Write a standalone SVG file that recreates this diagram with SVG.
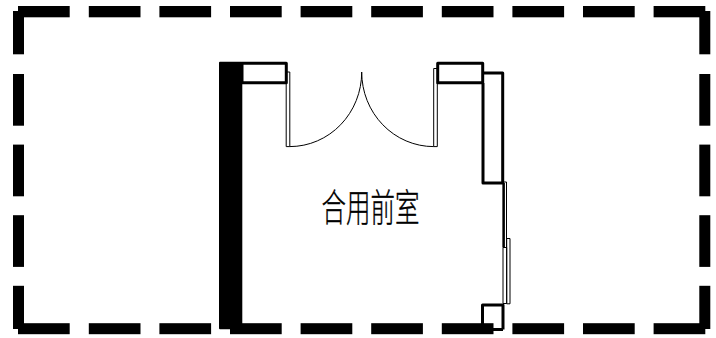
<svg xmlns="http://www.w3.org/2000/svg" width="716" height="338" viewBox="0 0 716 338">
<style>
.d{fill:#000}
.w{fill:none;stroke:#000;stroke-width:3;stroke-linejoin:round}
.t{fill:none;stroke:#000;stroke-width:1}
.m{fill:none;stroke:#000;stroke-width:2.200}
text{font-family:"Noto Sans CJK SC","Noto Sans",sans-serif;font-size:38px;font-weight:300;fill:#000;stroke:#000;stroke-width:.35}
</style>
<rect width="716" height="338" fill="#fff"/>
<g id="boundary" class="d">
<rect x="18" y="6" width="51.7" height="11.3"/><rect x="88.8" y="6" width="51.7" height="11.3"/><rect x="159.4" y="6" width="51.7" height="11.3"/><rect x="230" y="6" width="51.7" height="11.3"/><rect x="300.6" y="6" width="51.7" height="11.3"/><rect x="371.2" y="6" width="51.7" height="11.3"/><rect x="441.8" y="6" width="51.7" height="11.3"/><rect x="512.4" y="6" width="51.7" height="11.3"/><rect x="583" y="6" width="51.7" height="11.3"/><rect x="653.6" y="6" width="51.7" height="11.3"/>
<rect x="18" y="323.2" width="51.7" height="11"/><rect x="88.8" y="323.2" width="51.7" height="11"/><rect x="159.4" y="323.2" width="51.7" height="11"/><rect x="230" y="323.2" width="51.7" height="11"/><rect x="300.6" y="323.2" width="51.7" height="11"/><rect x="371.2" y="323.2" width="51.7" height="11"/><rect x="441.8" y="323.2" width="51.7" height="11"/><rect x="512.4" y="323.2" width="51.7" height="11"/><rect x="583" y="323.2" width="51.7" height="11"/><rect x="653.6" y="323.2" width="51.7" height="11"/>
<rect x="13" y="11" width="11" height="43.3"/><rect x="13" y="74" width="11" height="51.7"/><rect x="13" y="144.6" width="11" height="51.7"/><rect x="13" y="215.2" width="11" height="51.7"/><rect x="13" y="285.8" width="11" height="43.2"/>
<rect x="699.3" y="11" width="11" height="43.3"/><rect x="699.3" y="74" width="11" height="51.7"/><rect x="699.3" y="144.6" width="11" height="51.7"/><rect x="699.3" y="215.2" width="11" height="51.7"/><rect x="699.3" y="285.8" width="11" height="43.2"/>
</g>
<g id="walls">
<rect class="d" x="219" y="61.7" width="23.3" height="267.6" rx="1"/>
<rect class="w" x="242" y="63.3" width="44.3" height="19.4"/>
<rect class="w" x="437.7" y="63.3" width="45" height="19.4"/>
<path class="w" d="M483 73H502.7V183H483V83"/>
<path class="m" d="M503.800 183V247"/>
<path class="w" d="M503 329.500H482.500V305H503V329.500"/>
</g>
<g id="doors">
<path class="t" d="M286.200 83V146.600H289.800V72H285.500"/>
<path class="t" d="M437.300 83V146.600H433.700V68.500H437"/>
<path class="t" d="M289.800 146.600A72 74.500 0 0 0 361.700 72"/>
<path class="t" d="M433.700 146.600A72 74.500 0 0 1 361.700 72"/>
<path class="t" d="M503 182H506.500V247.500H503Z"/>
<path class="t" d="M503 247.500H506.700V303.500H503Z"/>
<path class="t" d="M506.700 238.500H510V303.800H506.700Z"/>
</g>
<text transform="translate(321.500 221) scale(0.645 1)">合用前室</text>
</svg>
